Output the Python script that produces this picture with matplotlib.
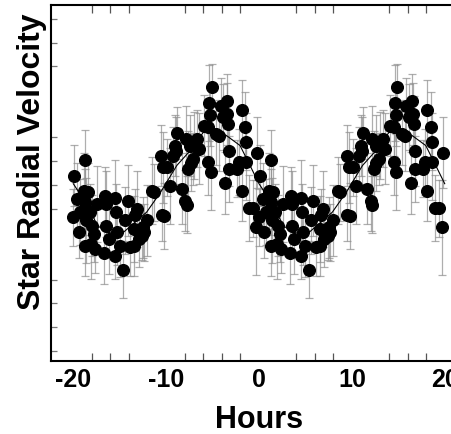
import matplotlib
matplotlib.use("Agg")
import matplotlib.pyplot as plt
import numpy as np

plt.rcParams['font.family'] = ['Liberation Sans', 'DejaVu Sans']

# Phase-folded radial velocity measurements (one cycle, hours, arbitrary units)
hours = [-19.89, -20.04, -19.61, -19.43, -19.25, -18.71, -18.89, -18.46, -18.71, -18.60,
         -18.24, -18.71, -18.10, -17.74, -17.63, -17.46, -17.99, -16.56, -16.45, -16.45,
         -16.67, -16.20, -15.48, -15.38, -15.30, -15.48, -15.02, -14.66, -14.16, -14.41,
         -13.87, -13.44, -13.15, -13.33, -12.97, -13.44, -12.51, -12.37, -12.08, -12.62,
         -11.54, -11.29, -10.57, -10.29, -9.93, -10.47, -10.22, -9.57, -9.21, -9.03,
         -8.78, -8.92, -8.32, -7.96, -7.78, -7.85, -7.60, -7.35, -7.42, -7.13,
         -6.99, -6.70, -6.42, -5.91, -5.45, -5.45, -5.20, -5.27, -5.34, -5.09,
         -4.62, -4.27, -4.12, -3.84, -3.48, -3.41, -3.30, -3.19, -3.19, -3.66,
         -2.33, -2.11, -1.86, -1.51, -1.40, -1.40, -1.86, -1.04, -0.61, -0.18,
         -0.32]
velocity = [0.39, -1.36, -0.59, -2.00, -1.15, 1.03, -0.24, -0.28, -0.73, -1.50,
            -1.15, -2.56, -2.49, -2.07, -2.70, -0.80, -1.72, -0.45, -0.80, -1.72,
            -2.87, -2.28, -0.56, -1.15, -2.00, -2.98, -2.59, -3.57, -0.66, -1.50,
            -2.63, -2.56, -1.01, -1.29, -2.28, -1.86, -1.79, -2.00, -1.50, -2.17,
            -0.24, -0.31, 1.24, 0.75, 0.75, -1.27, -1.32, -0.06, 1.24, 1.66,
            2.19, 1.45, -0.17, -0.66, -0.84, 1.94, 0.68, 0.93, 1.66, 1.10,
            1.66, 1.94, 1.52, 2.50, 2.43, 0.98, 0.53, 2.93, 3.46, 4.12,
            2.15, 2.08, 3.32, 2.86, 3.56, 3.00, 2.57, 1.45, 0.68, 0.08,
            0.68, 0.96, 3.14, 2.43, 1.83, 0.96, -0.24, -0.98, -0.98, 1.35,
            -1.79]
velocity_err = [1.3, 1.2, 1.5, 1.1, 1.4, 1.3, 1.6, 1.2, 1.4, 1.8,
                1.2, 1.3, 1.5, 1.2, 1.0, 1.6, 1.3, 1.2, 1.4, 1.1,
                1.3, 1.5, 1.6, 1.2, 1.4, 1.0, 1.3, 1.2, 1.5, 1.4,
                1.2, 1.3, 1.6, 1.1, 1.2, 1.4, 1.3, 1.2, 1.5, 1.0,
                1.4, 1.2, 1.3, 1.5, 1.2, 1.1, 1.4, 1.6, 1.2, 1.3,
                1.1, 1.4, 1.5, 1.3, 1.2, 1.4, 1.6, 1.2, 1.3, 1.1,
                1.4, 1.2, 1.5, 1.3, 1.2, 1.4, 1.6, 1.3, 1.6, 1.0,
                1.3, 1.5, 1.2, 1.4, 1.1, 1.3, 1.2, 1.5, 1.4, 1.3,
                1.2, 1.4, 1.3, 1.5, 1.2, 1.6, 1.3, 1.4, 1.2, 1.5,
                2.0]

# Fitted model curve, one cycle
model_hours = [-20, -18.46, -17.4, -16.3, -15.5, -14.6, -12.1, -10.6, -8.85,
               -7.24, -6.0, -4.9, -3.5, -2.04, -0.97, 0]
model_vel = [0.05, -0.87, -1.72, -2.0, -2.05, -2.0, -1.15, -0.31, 0.82,
             1.52, 2.22, 2.36, 2.08, 1.66, 0.82, 0.05]

cycle_offsets = [0, 20]

xtick_vals = [-20, -10, 0, 10, 20]
xtick_labels = ['-20', '-10', '0', '10', '20']
xminor_vals = [-20, -18, -16, -14, -8, -6, -4, -2, 4, 6, 8, 10, 14, 16, 18, 20]
yminor_vals = [-7, -6, -5, -4, -1, 0, 1, 2, 5, 6, 7]

W, H = 451, 435
fig = plt.figure(figsize=(W / 100, H / 100), dpi=100)
ax = fig.add_axes([51 / W, 1 - 362 / H, 416 / W, 356 / H])

h = np.array(hours)
v = np.array(velocity)
e = np.array(velocity_err)
for off in cycle_offsets:
    ax.errorbar(h + off, v, yerr=e, fmt='none', ecolor='#8c8c8c',
                elinewidth=0.9, capsize=2.6, capthick=0.9, alpha=0.7, zorder=1)
mx = np.concatenate([np.array(model_hours) + off for off in cycle_offsets])
my = np.concatenate([np.array(model_vel) for off in cycle_offsets])
ax.plot(mx, my, color='black', lw=0.8, zorder=2)
for off in cycle_offsets:
    ax.plot(h + off, v, 'o', color='black', markersize=8.4, zorder=3)

ax.set_xlim(-22.4, 22.4)
ax.set_ylim(-7.43, 7.59)

ax.set_xticks(xtick_vals)
ax.set_xticklabels(xtick_labels, fontsize=18, fontweight='bold')
ax.tick_params(axis='x', which='major', length=0, pad=4.3)
ax.set_xticks(xminor_vals, minor=True)
ax.tick_params(axis='x', which='minor', direction='in', length=6, width=0.9,
               color='#555555', top=True, bottom=True)
ax.set_yticks([])
ax.set_yticks(yminor_vals, minor=True)
ax.tick_params(axis='y', which='minor', direction='in', length=4.5, width=0.9,
               color='#777777', left=True, right=False)

for s in ['left', 'top', 'bottom']:
    ax.spines[s].set_linewidth(1.5)
ax.spines['right'].set_visible(False)

ax.set_xlabel('Hours', fontsize=22, fontweight='bold', va='center')
ax.xaxis.set_label_coords(0.5, -0.163)
ax.set_ylabel('Star Radial Velocity', fontsize=23, fontweight='bold', va='center')
ax.yaxis.set_label_coords(-0.046, 0.562)

fig.savefig('out.png', dpi=100)
